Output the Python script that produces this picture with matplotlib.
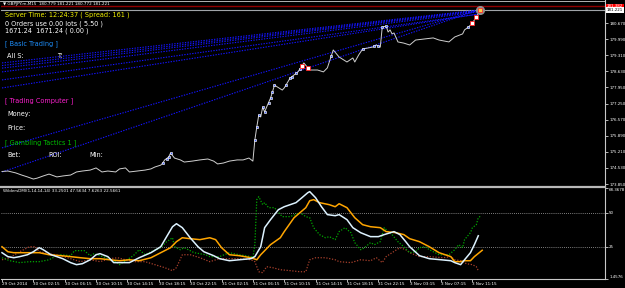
import matplotlib.pyplot as plt
import numpy as np

W, H = 625, 288

# time axis (bar index of each label, M15 bars)
time_ticks = [0, 16, 32, 48, 64, 80, 96, 112, 128, 144, 160, 176, 192, 208, 224, 240]
time_labels = ['29 Oct 2014', '30 Oct 02:15', '30 Oct 06:15', '30 Oct 10:15', '30 Oct 14:15',
               '30 Oct 18:15', '30 Oct 22:15', '31 Oct 02:15', '31 Oct 06:15', '31 Oct 10:15',
               '31 Oct 14:15', '31 Oct 18:15', '31 Oct 22:15', '3 Nov 03:15', '3 Nov 07:15',
               '3 Nov 11:15']

# GBPJPY close line
price_bars = [0, 3, 7, 10, 13, 16, 18, 21, 24, 28, 31, 35, 38, 41, 45, 48, 51, 54, 58, 60,
              63, 65, 69, 73, 76, 78, 81, 82, 83, 85, 86, 88, 91, 93, 97, 101, 105, 108, 110, 113,
              116, 120, 123, 126, 128, 129, 130, 131, 132, 133, 134, 135, 137, 138, 139, 143, 144, 147, 151, 154,
              157, 161, 164, 166, 169, 172, 176, 179, 180, 182, 184, 189, 191, 193, 194, 196, 197, 198, 199, 200,
              202, 205, 208, 211, 215, 220, 223, 228, 231, 235, 236, 238, 240, 241, 242, 244]
price_vals = [174.38, 174.40, 174.32, 174.23, 174.15, 174.06, 174.10, 174.19, 174.27, 174.15,
              174.19, 174.23, 174.36, 174.40, 174.44, 174.53, 174.36, 174.40, 174.36, 174.49,
              174.53, 174.36, 174.40, 174.44, 174.49, 174.57, 174.65, 174.74, 174.87, 174.99,
              175.16, 174.95, 174.87, 174.78, 174.82, 174.87, 174.91, 174.82, 174.70, 174.74,
              174.82, 174.87, 174.87, 174.95, 174.82, 175.71, 176.27, 176.77, 176.69, 177.11,
              176.90, 177.11, 177.49, 177.75, 178.04, 177.83, 177.92, 178.34, 178.60, 178.98,
              178.68, 178.68, 178.60, 178.77, 179.53, 179.23, 179.02, 179.19, 179.02, 179.32,
              179.57, 179.65, 179.74, 179.65, 180.50, 180.54, 180.29, 180.38, 180.21, 180.25,
              179.87, 179.82, 179.74, 179.95, 179.99, 180.04, 179.95, 179.87, 180.08, 180.21,
              180.38, 180.50, 180.67, 180.80, 180.93, 181.221]
bid = 181.221
ask = 181.382

# order markers on the price line
blue_marks = [82, 84, 85, 86, 129, 130, 131, 133, 134, 136, 137, 138, 139, 145, 147, 148, 150,
              152, 168, 184, 190, 192, 194, 196, 238]
red_marks = [153, 156, 240, 242]

# trendlines: start bar, start price, end bar, end price
trend_x0 = [0, 0, 0, 0, 0, 0, 0, 0]
trend_y0 = [178.98, 178.87, 178.76, 178.60, 178.26, 177.92, 175.38, 174.36]
trend_x1 = [243, 243, 243, 243, 243, 243, 243, 243]
trend_y1 = [181.22, 181.20, 181.18, 181.14, 181.05, 181.05, 181.22, 181.22]

price_ticks = [180.670, 179.990, 179.310, 178.630, 177.950, 177.250, 176.570,
               175.890, 175.210, 174.530, 173.850]

# WildersDMI(1,14,14,14)
adx_bars = [0, 3, 6, 9, 13, 16, 19, 21, 25, 28, 31, 35, 38, 41, 45, 48, 50, 54, 57, 60,
            65, 70, 76, 81, 84, 87, 89, 92, 96, 100, 103, 108, 111, 116, 121, 127, 129, 132, 134, 137,
            141, 144, 150, 153, 156, 157, 160, 163, 166, 170, 172, 176, 179, 183, 188, 192, 195, 200, 203, 206,
            208, 213, 218, 224, 229, 231, 234, 236, 239, 241, 243]
adx_vals = [20.8, 17.9, 17.1, 17.9, 19.3, 21.5, 24.5, 23.0, 19.3, 17.9,
            16.4, 13.5, 12.0, 12.7, 15.6, 19.3, 20.1, 17.9, 13.5, 13.5,
            13.5, 17.1, 20.8, 25.2, 32.6, 39.9, 42.1, 39.2, 31.8, 25.2,
            21.5, 18.6, 16.4, 14.9, 15.6, 16.4, 17.9, 25.2, 39.2, 45.1,
            52.4, 54.6, 57.6, 61.2, 64.9, 65.7, 61.2, 54.6, 48.8, 48.0,
            48.8, 45.1, 39.2, 35.5, 32.6, 32.6, 34.1, 36.3, 34.1, 28.9,
            25.2, 18.6, 16.4, 15.6, 14.9, 13.5, 12.0, 15.6, 20.8, 26.7, 33.25]

adxr_bars = [0, 3, 6, 9, 16, 19, 24, 30, 35, 40, 45, 50, 55, 60, 65, 70, 76, 81, 86, 89,
             92, 96, 101, 106, 109, 112, 116, 121, 127, 130, 132, 137, 142, 144, 149, 152, 155, 157, 159, 162,
             167, 170, 172, 176, 180, 184, 188, 193, 196, 201, 205, 208, 213, 218, 223, 229, 231, 234, 236, 239,
             241, 245]
adxr_vals = [25.2, 21.5, 20.8, 20.8, 20.8, 20.8, 19.3, 18.6, 17.9, 17.1,
             16.4, 16.4, 15.6, 14.9, 15.6, 14.9, 17.1, 20.8, 24.5, 28.9,
             31.8, 31.1, 30.4, 31.8, 30.4, 24.5, 19.3, 18.6, 17.1, 15.6,
             19.3, 26.7, 31.8, 36.3, 46.5, 50.2, 53.9, 59.0, 59.8, 57.6,
             56.1, 54.6, 56.8, 53.9, 46.5, 41.4, 39.9, 39.2, 36.3, 35.5,
             34.1, 31.1, 28.9, 25.2, 20.8, 17.9, 14.2, 14.2, 14.9, 14.9, 17.9, 22.57]

pdi_bars = [0, 4, 9, 14, 19, 24, 27, 30, 35, 37, 42, 45, 47, 53, 58, 60, 63, 67, 70, 73,
            76, 81, 84, 87, 88, 91, 93, 98, 104, 106, 111, 116, 121, 127, 128, 129, 130, 131, 133, 134,
            136, 139, 143, 147, 152, 155, 157, 159, 162, 165, 167, 170, 172, 175, 178, 180, 183, 185, 188, 190,
            193, 195, 197, 199, 202, 205, 208, 211, 213, 216, 218, 223, 228, 231, 233, 235, 236, 239, 240, 242,
            243, 244]
pdi_vals = [17.1, 14.9, 13.5, 14.2, 14.2, 15.6, 17.9, 19.3, 18.6, 22.3,
            22.3, 18.6, 20.1, 17.1, 14.2, 12.0, 14.9, 18.6, 23.0, 19.3,
            21.5, 24.5, 28.9, 31.8, 25.2, 23.0, 24.5, 20.8, 19.3, 17.9,
            17.9, 20.8, 19.3, 17.9, 17.1, 26.7, 59.8, 62.0, 56.1, 57.6,
            53.9, 53.9, 47.3, 47.3, 50.2, 47.3, 46.5, 39.2, 34.1, 31.8,
            32.6, 30.4, 36.3, 39.2, 35.5, 28.2, 23.0, 24.5, 28.2, 26.7,
            28.9, 39.2, 36.3, 34.1, 28.9, 25.2, 20.8, 21.5, 24.5, 25.2,
            23.0, 19.3, 19.3, 23.0, 26.7, 24.5, 30.4, 35.5, 39.2, 41.4,
            46.5, 47.56]

mdi_bars = [0, 4, 9, 14, 17, 19, 24, 30, 35, 40, 45, 50, 55, 59, 63, 68, 73, 78, 83, 87,
            89, 92, 96, 101, 106, 111, 116, 121, 127, 129, 131, 133, 135, 138, 142, 147, 152, 155, 157, 160,
            165, 170, 172, 178, 183, 188, 191, 194, 196, 199, 203, 206, 208, 213, 218, 225, 229, 231, 234, 237,
            240, 242, 243]
mdi_vals = [15.6, 17.1, 21.5, 25.2, 25.2, 21.5, 20.1, 18.6, 16.4, 14.2,
            15.6, 14.2, 16.4, 17.1, 15.6, 14.2, 14.2, 12.0, 9.8, 7.6,
            9.8, 19.3, 19.3, 17.1, 14.2, 16.4, 16.4, 16.4, 15.6, 14.2,
            6.8, 6.1, 10.5, 9.8, 8.3, 7.6, 6.8, 6.8, 15.6, 17.1,
            17.1, 15.6, 14.2, 13.5, 15.6, 14.9, 17.1, 13.5, 17.9, 20.8,
            24.5, 23.0, 20.8, 17.9, 17.9, 17.1, 17.9, 15.6, 14.9, 12.7,
            12.0, 10.5, 7.63]

ind_min, ind_max = 1.4576, 68.3678
ind_levels = [50, 25]

# ---- layout in pixels ----
def fx(px):
    return px / W

def fy(py):
    return 1 - py / H

px_per_bar = 1.96
bar0_px = 2
xl = ((1 - bar0_px) / px_per_bar, (605 - bar0_px) / px_per_bar)

fig = plt.figure(figsize=(W / 100, H / 100), dpi=100, facecolor='black')
ax = fig.add_axes([fx(1), fy(186), fx(604), 186 / H], facecolor='black')
ax2 = fig.add_axes([fx(1), fy(279), fx(604), 91 / H], facecolor='black')

# price scale: 173.85 at y=184, 23.6 px per yen
ax.set_ylim(173.85 - 2 / 23.6, 173.85 + 184 / 23.6)
for a in (ax, ax2):
    a.set_xlim(*xl)
    for s in ('left', 'top', 'bottom'):
        a.spines[s].set_visible(False)
    a.spines['right'].set_color('#c8c8c8')
    a.spines['right'].set_linewidth(0.8)
    a.yaxis.tick_right()
    a.tick_params(axis='y', colors='white', labelsize=2.9, length=2, width=0.5, pad=1)
ax.set_xticks([])

# ask / bid lines
ax.axhline(ask, color='#900000', lw=1.0)
ax.axhline(bid, color='#a0a4a8', lw=0.8)

# trendlines
for x0, y0, x1, y1 in zip(trend_x0, trend_y0, trend_x1, trend_y1):
    ax.plot([x0, x1], [y0, y1], color='#1414ff', lw=0.8, linestyle=(0, (1.2, 1.2)))

ax.plot(price_bars, price_vals, color='#d0d0d0', lw=0.7)

bm = np.interp(blue_marks, price_bars, price_vals)
ax.plot(blue_marks, bm, linestyle='none', marker='s', ms=1.9, mfc='#4060ff', mec='white', mew=0.45)
rm = np.interp(red_marks, price_bars, price_vals)
ax.plot(red_marks, rm, linestyle='none', marker='s', ms=2.2, mfc='white', mec='#ff2020', mew=0.6)
ax.plot([price_bars[-1]], [price_vals[-1]], marker='o', ms=5.5, mfc='#909090', mec='#909090')
ax.plot([price_bars[-1]], [price_vals[-1]], marker='s', ms=2.2, mfc='#ffd040', mec='#ff3030', mew=0.6)

ax.set_yticks(price_ticks)
ax.set_yticklabels(['%.3f' % v for v in price_ticks])
ax.text(1.003, ask, '%.3f' % ask, transform=ax.get_yaxis_transform(), fontsize=2.9, color='white',
        va='center', ha='left', bbox=dict(boxstyle='square,pad=0.15', fc='#ff0000', ec='none'))
ax.text(1.003, bid, '%.3f' % bid, transform=ax.get_yaxis_transform(), fontsize=2.9, color='black',
        va='center', ha='left', bbox=dict(boxstyle='square,pad=0.15', fc='white', ec='none'))

# indicator window
ax2.set_ylim(ind_min, ind_max)
for lv in ind_levels:
    ax2.axhline(lv, color='#a8a8a8', lw=0.6, linestyle=(0, (1, 1.5)))
ax2.plot(mdi_bars, mdi_vals, color='#a8402c', lw=0.9, linestyle=(0, (1, 1.3)))
ax2.plot(pdi_bars, pdi_vals, color='#00a800', lw=0.9, linestyle=(0, (1, 1.3)))
ax2.plot(adxr_bars, adxr_vals, color='#ffa500', lw=1.1)
ax2.plot(adx_bars, adx_vals, color='#dcf2ff', lw=1.1)
ax2.set_yticks([ind_max] + ind_levels + [ind_min])
ax2.set_yticklabels(['%.4f' % ind_max, '50', '25', '%.4f' % ind_min])
lab = ax2.get_yticklabels()
lab[0].set_va('top')
lab[-1].set_va('bottom')
ax2.spines['bottom'].set_visible(True)
ax2.spines['bottom'].set_color('#c8c8c8')
ax2.spines['bottom'].set_linewidth(0.8)
ax2.set_xticks(time_ticks)
ax2.set_xticklabels(time_labels, ha='left')
ax2.tick_params(axis='x', colors='white', labelsize=2.95, length=2, width=0.5, pad=0.5)

# window separator and frame
fig.add_artist(plt.Line2D([0, fx(605)], [fy(187), fy(187)], color='#b8b8b8', lw=1.6))
fig.add_artist(plt.Line2D([0, fx(605)], [fy(0.5), fy(0.5)], color='#d0d0d0', lw=0.6))

# chart texts
fig.text(fx(3), fy(4), '\u25bc GBPJPY.m,M15  180.779 181.221 180.772 181.221', color='white',
         fontsize=3.0, va='center', ha='left')
fig.text(fx(3), fy(191), 'WildersDMI(1,14,14,14) 33.2501 47.5634 7.6263 22.5661', color='white',
         fontsize=3.0, va='center', ha='left')

panel = [
    (5, 15, 'Server Time: 12:24:37 ( Spread: 161 )', '#f0f000'),
    (5, 23.5, '0 Orders use 0.00 lots ( 5.50 )', 'white'),
    (5, 31, '1671.24  1671.24 ( 0.00 )', 'white'),
    (5, 44, '[ Basic Trading ]', '#1e90ff'),
    (7, 56, 'All S:', 'white'),
    (57, 56, 'T:', 'white'),
    (5, 101, '[ Trading Computer ]', '#ff20d0'),
    (7, 114, 'Money:', 'white'),
    (7, 128, 'Price:', 'white'),
    (5, 143, '[ Gambling Tactics 1 ]', '#00c000'),
    (7, 155, 'Bet:', 'white'),
    (48, 155, 'ROI:', 'white'),
    (89, 155, 'Min:', 'white'),
]
for x, y, s, c in panel:
    fig.text(fx(x), fy(y), s, color=c, fontsize=4.7, va='center', ha='left')

fig.savefig('out.png', dpi=100, facecolor='black')
